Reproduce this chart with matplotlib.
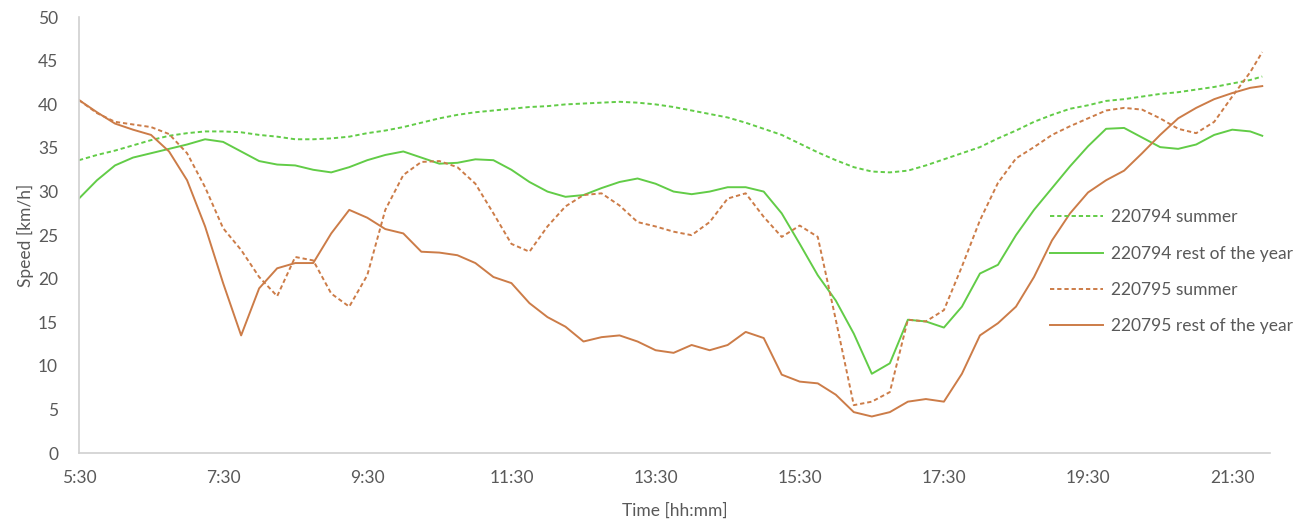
import numpy as np
import matplotlib
matplotlib.use("Agg")
import matplotlib.pyplot as plt

plt.rcParams['font.family'] = ['Lato', 'DejaVu Sans']

# time of day in hours: every 15 min from 5:30 to 21:45, last sample 21:55
hours = np.append(np.arange(5.5, 21.8, 0.25), 21 + 55 / 60)

summer_794 = [33.6, 34.2, 34.7, 35.3, 35.9, 36.4, 36.7, 36.9, 36.9, 36.8,
              36.5, 36.3, 36.0, 36.0, 36.1, 36.3, 36.7, 37.0, 37.4, 37.9,
              38.4, 38.8, 39.1, 39.3, 39.5, 39.7, 39.8, 40.0, 40.1, 40.2,
              40.3, 40.2, 40.0, 39.7, 39.3, 38.9, 38.5, 37.9, 37.2, 36.5,
              35.5, 34.5, 33.6, 32.8, 32.3, 32.2, 32.4, 33.0, 33.7, 34.4,
              35.1, 36.1, 37.0, 38.0, 38.8, 39.5, 39.9, 40.4, 40.6, 40.9,
              41.2, 41.4, 41.7, 42.0, 42.4, 42.8, 43.2]
rest_794 = [29.2, 31.3, 33.0, 33.9, 34.4, 34.9, 35.4, 36.0, 35.7, 34.6,
            33.5, 33.1, 33.0, 32.5, 32.2, 32.8, 33.6, 34.2, 34.6, 33.9,
            33.2, 33.3, 33.7, 33.6, 32.5, 31.1, 30.0, 29.4, 29.6, 30.4,
            31.1, 31.5, 30.9, 30.0, 29.7, 30.0, 30.5, 30.5, 30.0, 27.5,
            24.0, 20.4, 17.5, 13.7, 9.1, 10.3, 15.3, 15.1, 14.4, 16.8,
            20.6, 21.6, 25.0, 27.9, 30.4, 32.9, 35.2, 37.2, 37.3, 36.2,
            35.1, 34.9, 35.4, 36.5, 37.1, 36.9, 36.4]
summer_795 = [40.5, 39.0, 38.0, 37.7, 37.4, 36.6, 34.4, 30.5, 25.8, 23.3,
              20.2, 18.0, 22.5, 22.1, 18.3, 16.8, 20.4, 27.9, 31.9, 33.4,
              33.5, 32.8, 30.9, 27.5, 24.0, 23.1, 26.0, 28.3, 29.6, 29.8,
              28.4, 26.5, 26.0, 25.4, 25.0, 26.5, 29.2, 29.8, 27.1, 24.8,
              26.1, 24.8, 15.3, 5.5, 5.9, 7.0, 15.3, 15.1, 16.4, 21.4,
              26.7, 31.0, 33.8, 35.1, 36.5, 37.5, 38.4, 39.3, 39.6, 39.4,
              38.4, 37.2, 36.7, 38.0, 40.9, 43.7, 46.0]
rest_795 = [40.5, 39.1, 37.8, 37.1, 36.5, 34.6, 31.3, 26.0, 19.5, 13.5,
            18.9, 21.2, 21.8, 21.8, 25.2, 27.9, 27.0, 25.7, 25.2, 23.1,
            23.0, 22.7, 21.8, 20.2, 19.5, 17.2, 15.6, 14.5, 12.8, 13.3,
            13.5, 12.8, 11.8, 11.5, 12.4, 11.8, 12.4, 13.9, 13.2, 9.0,
            8.2, 8.0, 6.7, 4.7, 4.2, 4.7, 5.9, 6.2, 5.9, 9.1,
            13.5, 14.9, 16.8, 20.2, 24.4, 27.5, 29.9, 31.3, 32.4, 34.4,
            36.5, 38.4, 39.6, 40.6, 41.3, 41.9, 42.1]

tick_hours = [5.5, 7.5, 9.5, 11.5, 13.5, 15.5, 17.5, 19.5, 21.5]
tick_labels = ['5:30', '7:30', '9:30', '11:30', '13:30', '15:30', '17:30', '19:30', '21:30']

green = '#62cc47'
orange = '#cc7c48'
grey_txt = '#595959'

fig = plt.figure(figsize=(13.05, 5.22), dpi=100)
ax = fig.add_axes([0.0605, 0.132, 0.913, 0.835])

ax.plot(hours, summer_794, color=green, lw=1.4, dashes=(2.2, 1.5), label='220794 summer')
ax.plot(hours, rest_794, color=green, lw=1.4, label='220794 rest of the year')
ax.plot(hours, summer_795, color=orange, lw=1.4, dashes=(2.2, 1.5), label='220795 summer')
ax.plot(hours, rest_795, color=orange, lw=1.4, label='220795 rest of the year')

ax.set_xlim(5.5, 22.03)
ax.set_ylim(0, 50)
ax.set_yticks(range(0, 51, 5))
ax.set_xticks(tick_hours)
ax.set_xticklabels(tick_labels)
ax.tick_params(length=0, labelsize=12.5, colors=grey_txt)
ax.tick_params(axis='x', pad=12)
ax.tick_params(axis='y', pad=15)

for side in ['top', 'right']:
    ax.spines[side].set_visible(False)
for side in ['left', 'bottom']:
    ax.spines[side].set_color('#d0d0d0')
    ax.spines[side].set_linewidth(1.2)

ax.set_ylabel('Speed [km/h]', fontsize=12.5, color=grey_txt, labelpad=3)
ax.set_xlabel('Time [hh:mm]', fontsize=12.5, color=grey_txt, labelpad=12)

# legend sits inside the plot area, to the right, without a frame
leg = ax.legend(loc='center left', bbox_to_anchor=(0.793, 0.479), bbox_transform=fig.transFigure,
                frameon=False, fontsize=12.5, handlelength=3.05, handletextpad=0.46, labelspacing=1.17)
for t in leg.get_texts():
    t.set_color(grey_txt)

fig.savefig('out.png', dpi=100)
